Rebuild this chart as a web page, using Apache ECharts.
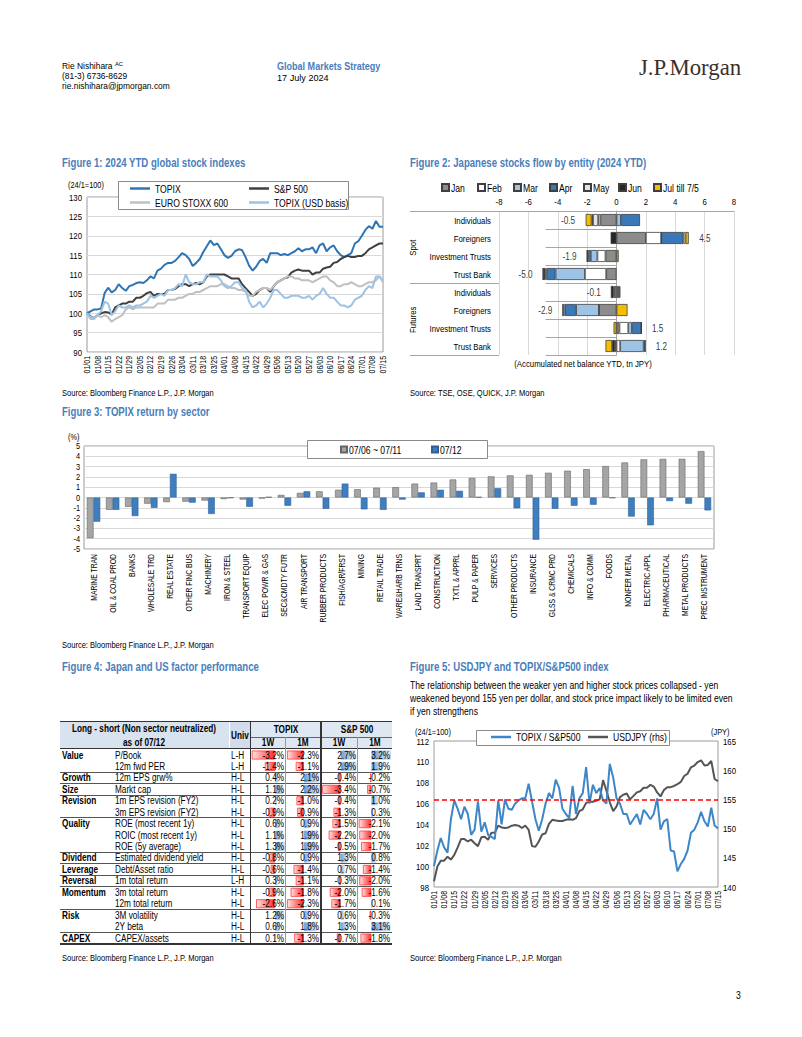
<!DOCTYPE html>
<html>
<head>
<meta charset="utf-8">
<script src="https://cdn.jsdelivr.net/npm/echarts@6.0.0/dist/echarts.min.js"></script>
<style>
html,body{margin:0;padding:0;background:#fff;}
body{width:802px;height:1037px;position:relative;overflow:hidden;font-family:"Liberation Sans",Arial,sans-serif;}
#chart{position:absolute;left:0;top:0;width:802px;height:1037px;}
#over{position:absolute;left:0;top:0;width:802px;height:1037px;pointer-events:none;}
.t{position:absolute;white-space:nowrap;color:#000;}
.ln{position:absolute;}
</style>
</head>
<body>
<div id="chart"></div>
<div id="over"></div>
<script>
// ---------------- DATA ----------------
// Figure 1 / Figure 5 dates (Mon / Wed / Fri)
const dates = ['01/01','01/03','01/05','01/08','01/10','01/12','01/15','01/17','01/19','01/22','01/24','01/26',
'01/29','01/31','02/02','02/05','02/07','02/09','02/12','02/14','02/16','02/19','02/21','02/23',
'02/26','02/28','03/01','03/04','03/06','03/08','03/11','03/13','03/15','03/18','03/20','03/22',
'03/25','03/27','03/29','04/01','04/03','04/05','04/08','04/10','04/12','04/15','04/17','04/19',
'04/22','04/24','04/26','04/29','05/01','05/03','05/06','05/08','05/10','05/13','05/15','05/17',
'05/20','05/22','05/24','05/27','05/29','05/31','06/03','06/05','06/07','06/10','06/12','06/14',
'06/17','06/19','06/21','06/24','06/26','06/28','07/01','07/03','07/05','07/08','07/10','07/12','07/15'];

const f1Topix = [100,100.5,101, 101,101.2,105.2, 106.6,105.4,106, 107.5,106.5,105.8,
107,107.3,107.8, 108,107.8,108.5, 109.5,109,111, 111.5,112.5,113,
113,113.5,114.5, 115.5,115,114, 112.2,113,114, 115.8,117.3,118.8,
117.6,118,116.5, 115,114.3,114.8, 116,116.5,116.3, 114.5,112.3,111,
112,113.5,114, 113,115.5,115.5, 115.5,115,115.3, 115,115.5,116,
116.8,116,116.5, 116.5,117,115.5, 117.5,118,116, 117,117.5,116,
115,114.5,115, 115.5,118,118.6, 120,121.5,122.5, 121.8,123.8,122.3, 122.3];
const f1Spx = [100,99.2,98.8, 99.5,100,100.3, 100.2,99.7,101.5, 102,102.5,102.5,
103,103,104, 104,104.5,105.2, 105.5,104.5,105, 105,105,106,
106,106.3,107, 107.5,107.5,107, 107.5,107.8,107.5, 108,109.5,110,
110,110,110, 110,109.5,109, 109,109,107.5, 106.5,105.5,104.5,
105,106,106.5, 106.5,105.5,107, 108,108.5,109, 109.3,110.5,111,
111.3,111,111, 111,110,110.5, 110.5,111.5,111.8, 112,113,113.2,
114,114.5,114.8, 114.5,114.5,114.8, 114.8,115.5,116.5, 117,117.5,118, 118];
const f1Stoxx = [100,99,99, 99.5,99,99.5, 99,97.8,98.5, 99,99.5,101,
101.5,101,101.5, 101.5,101.5,101.5, 101.5,101.5,102.5, 102.5,102.5,103.5,
103.5,103.5,104, 104,104.5,105, 105,105.5,105.5, 106,106.5,107,
107,107,107.5, 107.5,107,106.5, 106.5,106,106, 105.5,104.5,104.5,
105.5,106,106.5, 106.5,106,107, 108,108.5,109, 109.5,109.5,109,
109,108.5,108.5, 108.5,108,108.5, 109,109.5,109.5, 108.5,108,107,
107,107.5,107.5, 108,107.5,107, 107,107.5,108, 108,108.5,109.5, 108];
const f1TopixUsd = [100,98.5,98.5, 99.5,100.5,103, 102.5,99.5,100.5, 102,101.5,101.5,
102,101.5,102, 102,102.5,103, 104.5,104,104.5, 105,104.5,106,
106,106.5,107.5, 107,110,108, 107.5,107.5,108, 108,110,109.5,
109.5,109.5,108.5, 107,106.5,107, 108,108,106.5, 106,103,101.5,
102,103,101.5, 102.5,104,106, 106,105,104, 104,104.5,104.5,
104.5,104,104, 104.5,103.5,104.5, 105,106.5,105, 104,104,103,
102,102,101.5, 102,103.5,104, 104.5,106,107, 106.5,109.5,109.5, 108.5];

// Figure 2
const f2Entities = ['Individuals','Foreigners','Investment Trusts','Trust Bank','Individuals','Foreigners','Investment Trusts','Trust Bank'];
const f2Groups = ['Spot','Spot','Spot','Spot','Futures','Futures','Futures','Futures'];
const f2Months = ['Jan','Feb','Mar','Apr','May','Jun','Jul till 7/5'];
const f2Jan = [-1.1, 2.0, -0.75, -0.7, -0.15, -1.2, 0.2, -0.1];
const f2Feb = [-0.15, 1.05, -0.55, -1.45, 0.1, 0, 0.6, 0.25];
const f2Mar = [0.3, 0, -0.45, -2.0, 0.1, -1.55, 0.25, 1.6];
const f2Apr = [1.3, 1.5, -0.2, -0.6, -0.05, -0.75, 0.65, 0.1];
const f2May = [-0.35, 0.15, -0.05, -0.1, 0.05, -0.15, 0, 0];
const f2Jun = [-0.1, -0.4, 0, -0.15, -0.15, 0, 0, -0.2];
const f2Jul = [-0.4, 0.22, 0.15, 0, 0, 0.75, -0.2, -0.45];
const f2Totals = [-0.5, 4.5, -1.9, -5.0, -0.1, -2.9, 1.5, 1.2];

// Figure 3
const f3Sectors = ['MARINE TRAN','OIL & COAL PROD','BANKS','WHOLESALE TRD','REAL ESTATE','OTHER FINC BUS','MACHINERY','IRON & STEEL','TRANSPORT EQUIP','ELEC POWR & GAS','SEC&CMDTY FUTR','AIR TRANSPORT','RUBBER PRODUCTS','FISH/AGR/FRST','MINING','RETAIL TRADE','WARE&HARB TRNS','LAND TRANSPRT','CONSTRUCTION','TXTL & APPRL','PULP & PAPER','SERVICES','OTHER PRODUCTS','INSURANCE','GLSS & CRMC PRD','CHEMICALS','INFO & COMM','FOODS','NONFER METAL','ELECTRIC APPL','PHARMACEUTICAL','METAL PRODUCTS','PREC INSTRUMENT'];
const f3Week = [-3.95,-1.2,-0.9,-0.6,-0.45,-0.4,-0.3,-0.15,-0.2,-0.1,0.25,0.45,0.6,0.75,0.8,0.95,1.0,1.35,1.45,1.75,1.9,2.05,2.15,2.2,2.4,2.6,2.75,3.05,3.4,3.7,3.75,3.75,4.5];
const f3Day = [-2.35,-1.2,-1.8,-1.0,2.3,-0.5,-1.6,-0.05,-0.9,0.05,-0.8,0.6,-1.1,1.35,-1.15,-1.2,-0.2,0.5,0.75,0.65,0.05,0.9,-1.05,-4.1,-1.1,-0.8,-0.7,-0.05,-1.85,-2.7,-0.35,-0.6,-1.25];

// Figure 4 table
const t4Groups = ['Value','','Growth','Size','Revision','','Quality','','','Dividend','Leverage','Reversal','Momentum','','Risk','','CAPEX'];
const t4Items = ['P/Book','12m fwd PER','12m EPS grw%','Markt cap','1m EPS revision (FY2)','3m EPS revision (FY2)','ROE (most recent 1y)','ROIC (most recent 1y)','ROE (5y average)','Estimated dividend yield','Debt/Asset ratio','1m total return','3m total return','12m total return','3M volatility','2Y beta','CAPEX/assets'];
const t4Univ = ['L-H','L-H','H-L','H-L','H-L','H-L','H-L','H-L','H-L','H-L','H-L','L-H','H-L','H-L','H-L','H-L','H-L'];
const t4Topix1W = [-3.2,-1.4,0.4,1.1,0.2,-0.9,0.6,1.1,1.3,-0.8,-0.6,0.3,-0.9,-2.6,1.2,0.6,0.1];
const t4Topix1M = [-2.3,-1.1,2.1,2.2,-1.0,-0.9,0.9,1.9,1.9,0.9,-1.4,-1.1,-1.8,-2.3,0.9,1.8,-1.3];
const t4Spx1W = [2.7,2.9,-0.4,-3.4,-0.4,-1.3,-1.5,-2.2,-0.5,1.3,0.7,-0.3,-2.0,-1.7,0.6,1.3,-0.7];
const t4Spx1M = [3.2,1.9,-0.2,-0.7,1.0,0.3,-2.1,-2.0,-1.7,0.8,-1.4,-2.0,-1.6,0.1,-0.3,3.1,-1.8];
const t4GroupEnds = [1,2,3,5,8,9,10,11,13,15];

// Figure 5
const f5Ratio = [100,101.5,102.7, 101.8,101.3,104.5, 106.3,105.5,104.5, 105.7,105,103,
103.5,106.2,103.3, 104.2,103,102.8, 102.6,106.3,104, 106.4,105.5,105.4,
106,106.3,106.5, 106.5,107.9,106.2, 104.5,103.4,104.5, 106,107,106.5,
108.3,107.5,105.5, 105,104.6,107.7, 105,106.5,107, 109.5,106,107.8,
107,107.5,106.3, 106,109.8,108.5, 106.5,106,105, 105,104,104.5,
105,104,105.4, 105,104.5,105, 106.5,103.5,104.3, 104.5,101.5,101.4,
99.5,100.2,100.7, 101.5,103.2,103.5, 104.2,105.2,104.3, 103.8,105.6,103.9, 103.6];
const f5Usdjpy = [141,143.5,144.5, 144.5,145.2,144.7, 145.5,146.8,148.2, 148.2,147.8,148.1,
147.5,147,148.5, 148.6,148.1,149.3, 149.3,150.5,150.2, 150.1,150.2,150.5,
150.6,150.5,150.1, 150.5,149.8,147, 146.9,147.8,149, 149.2,150.8,151.5,
151.4,151.3,151.3, 151.5,151.6,151.5, 151.8,153,153.3, 154.4,154.6,154.6,
154.8,155,158.3, 156.5,154.5,153, 153.8,155.4,155.8, 156,155,155.6,
156.2,156.4,157, 157,157.5,157.2, 156.2,155.5,156.6, 157.1,157.1,157.3,
157.6,158,159, 159.4,160.5,160.8, 161.4,161.7,160.8, 160.9,161.6,158.5, 158.1];
const f5Threshold = 155;

// ---------------- LAYOUT / TEXT ----------------
const FONT = '"Liberation Sans",Arial,sans-serif';
const SQ = 0.82; // narrow-face emulation
const over = document.getElementById('over');
function T(x, y, txt, fs, o) {
  o = o || {};
  const sx = o.sx || SQ;
  const d = document.createElement('div');
  d.className = 't';
  if (o.html) d.innerHTML = txt; else d.textContent = txt;
  const lh = o.lh || fs * 1.2;
  d.style.fontSize = fs + 'px';
  d.style.lineHeight = lh + 'px';
  d.style.top = (y - lh / 2) + 'px';
  if (o.bold) d.style.fontWeight = 'bold';
  if (o.color) d.style.color = o.color;
  if (o.family) d.style.fontFamily = o.family;
  let origin = 'left center';
  if (o.align === 'right') { d.style.left = (x - 300) + 'px'; d.style.width = '300px'; d.style.textAlign = 'right'; origin = 'right center'; }
  else if (o.align === 'center') { d.style.left = (x - 150) + 'px'; d.style.width = '300px'; d.style.textAlign = 'center'; origin = 'center center'; }
  else d.style.left = x + 'px';
  d.style.transformOrigin = origin;
  d.style.transform = (o.rotate ? 'rotate(-90deg) ' : '') + 'scaleX(' + sx + ')';
  over.appendChild(d);
  return d;
}
function L(x, y, w, h, c) {
  const d = document.createElement('div');
  d.className = 'ln';
  d.style.left = x + 'px'; d.style.top = y + 'px'; d.style.width = w + 'px'; d.style.height = h + 'px';
  d.style.background = c;
  over.appendChild(d);
}
const BLUE_T = '#4a7ebb';
// header
T(62, 67.2, 'Rie Nishihara <span style="font-size:6px;position:relative;top:-3px">AC</span>', 8.6, {html: true, lh: 9.8, sx: 0.98});
T(62, 77.1, '(81-3) 6736-8629', 8.6, {lh: 9.8, sx: 0.98});
T(62, 87, 'rie.nishihara@jpmorgan.com', 8.6, {lh: 9.8, sx: 0.98});
T(277, 66.5, 'Global Markets Strategy', 10.5, {bold: true, color: BLUE_T, lh: 10.5, sx: 0.86});
T(277, 77.5, '17 July 2024', 9.6, {lh: 10, sx: 0.95});
T(639, 67, 'J.P.Morgan', 23.5, {family: '"Liberation Serif","DejaVu Serif",serif', color: '#3b302a', sx: 0.97});
// titles
T(62, 163, 'Figure 1: 2024 YTD global stock indexes', 12, {bold: true, color: BLUE_T, sx: 0.8});
T(410, 163, 'Figure 2: Japanese stocks flow by entity (2024 YTD)', 12, {bold: true, color: BLUE_T, sx: 0.8});
T(62, 412, 'Figure 3: TOPIX return by sector', 12, {bold: true, color: BLUE_T, sx: 0.8});
T(62, 667, 'Figure 4: Japan and US factor performance', 12, {bold: true, color: BLUE_T, sx: 0.8});
T(410, 667, 'Figure 5: USDJPY and TOPIX/S&P500 index', 12, {bold: true, color: BLUE_T, sx: 0.8});
T(410, 684.5, 'The relationship between the weaker yen and higher stock prices collapsed - yen', 10.5, {lh: 12});
T(410, 697.5, 'weakened beyond 155 yen per dollar, and stock price impact likely to be limited even', 10.5, {lh: 12});
T(410, 710.5, 'if yen strengthens', 10.5, {lh: 12});
// sources
T(62, 393.5, 'Source:  Bloomberg Finance L.P., J.P. Morgan', 9.2);
T(410, 393.5, 'Source: TSE, OSE, QUICK, J.P. Morgan', 9.2);
T(62, 645.5, 'Source: Bloomberg Finance L.P., J.P. Morgan', 9.2);
T(62, 958.5, 'Source: Bloomberg Finance L.P., J.P. Morgan', 9.2);
T(410, 958.5, 'Source: Bloomberg Finance L.P., J.P. Morgan', 9.2);
T(736, 995, '3', 10.5);
// axis unit texts
T(68, 185, '(24/1=100)', 9);
T(68, 437, '(%)', 9);
T(415, 732, '(24/1=100)', 9);
T(711, 732, '(JPY)', 9);
T(583, 364, '(Accumulated net balance YTD, tn JPY)', 9.5, {align: 'center'});
T(413, 248, 'Spot', 9.5, {align: 'center', rotate: true});
T(413, 320, 'Futures', 9.5, {align: 'center', rotate: true});

// ---------------- TABLE (Figure 4) ----------------
const TB = {left: 60, right: 392, top: 721.5, h1: 737, h2: 748.5, rowTop: 749.3, rowH: 11.44};
const colX = [250.5, 285.8, 321, 357.5, 392];
// header backgrounds
L(TB.left, TB.top, 169, TB.h2 - TB.top, '#d9e3ef');
L(229.5, TB.top, 21, TB.h2 - TB.top, '#d3dcea');
L(colX[0], TB.top, colX[4] - colX[0], TB.h2 - TB.top, '#dfe7f2');
T(144, 728.5, 'Long - short (Non sector neutralized)', 10, {bold: true, align: 'center', lh: 11});
T(144, 742, 'as of 07/12', 10, {bold: true, align: 'center', lh: 11});
T(240, 735, 'Univ', 10, {bold: true, align: 'center', lh: 11});
T((colX[0] + colX[2]) / 2, 729, 'TOPIX', 10, {bold: true, align: 'center', lh: 11});
T((colX[2] + colX[4]) / 2, 729, 'S&P 500', 10, {bold: true, align: 'center', lh: 11});
for (let c = 0; c < 4; c++) T((colX[c] + colX[c + 1]) / 2, 742.5, c % 2 === 0 ? '1W' : '1M', 10, {bold: true, align: 'center', lh: 11});
const nRows = t4Items.length;
const tBottom = TB.rowTop + nRows * TB.rowH;
const colVals = [t4Topix1W, t4Topix1M, t4Spx1W, t4Spx1M];
for (let i = 0; i < nRows; i++) {
  const cy = TB.rowTop + (i + 0.5) * TB.rowH;
  if (t4Groups[i]) T(62, cy, t4Groups[i], 10, {bold: true, lh: 11});
  T(115, cy, t4Items[i], 10, {lh: 11});
  T(231, cy, t4Univ[i], 10, {lh: 11});
  for (let c = 0; c < 4; c++) {
    T(colX[c + 1] - 2, cy, colVals[c][i].toFixed(1) + '%', 10, {align: 'right', lh: 11});
  }
}
// table lines
L(TB.left, TB.top - 0.7, TB.right - TB.left, 1.6, '#333');
L(colX[0], TB.h1 - 0.5, colX[4] - colX[0], 1, '#666');
L(TB.left, TB.h2 - 0.8, TB.right - TB.left, 1.6, '#333');
t4GroupEnds.forEach(k => L(TB.left, TB.rowTop + (k + 1) * TB.rowH - 0.5, TB.right - TB.left, 1, '#555'));
L(TB.left, tBottom - 0.5, TB.right - TB.left, 1.6, '#333');
L(colX[0] - 0.7, TB.top, 1.4, tBottom - TB.top, '#333');
L(colX[2] - 0.7, TB.top, 1.4, tBottom - TB.top, '#333');
L(colX[1] - 0.4, TB.h1, 0.8, tBottom - TB.h1, '#999');
L(colX[3] - 0.4, TB.h1, 0.8, tBottom - TB.h1, '#999');

// figure 2 decorative rule lines
L(410, 210.5, 89, 1, '#a6a6a6');
L(410, 282.5, 89, 1, '#a6a6a6');
L(410, 354.5, 89, 1, '#a6a6a6');

// ---------------- CHART ----------------
const chart = echarts.init(document.getElementById('chart'), null, {renderer: 'svg'});
const AX = '#000';
const lbl = (fs) => ({color: AX, fontSize: fs, fontFamily: FONT});

const grids = [
  {left: 87, top: 197, width: 296, height: 155, show: true, borderColor: '#9a9a9a', borderWidth: 1}, // fig1
  {left: 499, top: 211, width: 235, height: 144}, // fig2
  {left: 84, top: 446, width: 630, height: 103, show: true, borderColor: '#9a9a9a', borderWidth: 1}, // fig3
  {left: 434, top: 741, width: 284, height: 146, show: true, borderColor: '#9a9a9a', borderWidth: 1} // fig5
];
const tableGrids = [];
for (let c = 0; c < 4; c++) tableGrids.push({left: colX[c] + 1.2, width: colX[c + 1] - colX[c] - 2.4, top: TB.rowTop, height: nRows * TB.rowH});
const xAxes = [
  {gridIndex: 0, type: 'category', data: dates, boundaryGap: false,
   axisLine: {show: false}, axisTick: {show: false},
   axisLabel: Object.assign(lbl(8.5), {rotate: 90, interval: 2, margin: 4})},
  {gridIndex: 1, type: 'value', position: 'top', min: -8, max: 8, interval: 2,
   axisLine: {show: true, lineStyle: {color: '#a6a6a6'}}, axisTick: {show: false},
   splitLine: {show: true, lineStyle: {color: '#d9d9d9'}},
   axisLabel: Object.assign(lbl(9.5), {margin: 5})},
  {gridIndex: 2, type: 'category', data: f3Sectors,
   axisLine: {show: false, onZero: false}, axisTick: {show: false},
   axisLabel: Object.assign(lbl(8.3), {rotate: 90, interval: 0, margin: 5})},
  {gridIndex: 3, type: 'category', data: dates, boundaryGap: false,
   axisLine: {show: false}, axisTick: {show: false},
   axisLabel: Object.assign(lbl(8.5), {rotate: 90, interval: 2, margin: 4})}
];
const yAxes = [
  {gridIndex: 0, type: 'value', min: 90, max: 130, interval: 5,
   axisLine: {show: false}, axisTick: {show: false},
   splitLine: {show: true, lineStyle: {color: '#d9d9d9'}},
   axisLabel: Object.assign(lbl(9.5), {margin: 5})},
  {gridIndex: 1, type: 'category', inverse: true,
   data: f2Entities.map((e, i) => f2Groups[i] + '|' + e),
   axisLine: {show: true, lineStyle: {color: '#a6a6a6'}},
   axisTick: {show: true, length: 71, lineStyle: {color: '#a6a6a6'}},
   axisLabel: Object.assign(lbl(9.5), {margin: 8, formatter: v => v.split('|')[1]})},
  {gridIndex: 2, type: 'value', min: -5, max: 5, interval: 1,
   axisLine: {show: false}, axisTick: {show: false},
   splitLine: {show: true, lineStyle: {color: '#d9d9d9'}},
   axisLabel: Object.assign(lbl(9), {margin: 4})},
  {gridIndex: 3, type: 'value', min: 98, max: 112, interval: 2,
   axisLine: {show: false}, axisTick: {show: false}, splitLine: {show: false},
   axisLabel: Object.assign(lbl(9.5), {margin: 5})},
  {gridIndex: 3, type: 'value', position: 'right', min: 140, max: 165, interval: 5,
   axisLine: {show: false}, axisTick: {show: false}, splitLine: {show: false},
   axisLabel: Object.assign(lbl(9.5), {margin: 5})}
];
for (let c = 0; c < 4; c++) {
  xAxes.push({gridIndex: 4 + c, type: 'value', min: 'dataMin', max: 'dataMax', show: false});
  yAxes.push({gridIndex: 4 + c, type: 'category', inverse: true, data: t4Items, show: false});
}

const series = [];
// Figure 1
const f1Def = [['TOPIX', f1Topix, '#2e75b6'], ['S&P 500', f1Spx, '#404040'], ['EURO STOXX 600', f1Stoxx, '#c0c0c0'], ['TOPIX (USD basis)', f1TopixUsd, '#9dc3e6']];
[2, 3, 1, 0].forEach(k => {
  const d = f1Def[k];
  series.push({name: d[0], type: 'line', xAxisIndex: 0, yAxisIndex: 0, data: d[1], symbol: 'none',
    lineStyle: {color: d[2], width: 2}, itemStyle: {color: d[2]}, z: 3 + k});
});
// Figure 2
const f2Data = [f2Jan, f2Feb, f2Mar, f2Apr, f2May, f2Jun, f2Jul];
const f2Colors = ['#8c8c8c', '#ffffff', '#9dc3e6', '#3a78b8', '#e3e3e3', '#262626', '#f5bd00'];
f2Months.forEach((m, k) => {
  series.push({name: m, type: 'bar', xAxisIndex: 1, yAxisIndex: 1, stack: 'flow', data: f2Data[k],
    barWidth: 12, itemStyle: {color: f2Colors[k], borderColor: '#3f3f3f', borderWidth: 0.8}});
});
const negExt = f2Entities.map((e, i) => f2Data.reduce((s, arr) => s + Math.min(arr[i], 0), 0));
const posExt = f2Entities.map((e, i) => f2Data.reduce((s, arr) => s + Math.max(arr[i], 0), 0));
series.push({name: 'totals', type: 'scatter', xAxisIndex: 1, yAxisIndex: 1, symbolSize: 1, silent: true,
  itemStyle: {color: 'rgba(0,0,0,0)'},
  data: f2Totals.map((v, i) => ({value: [v < 0 ? negExt[i] : posExt[i], i],
    label: {show: true, position: v < 0 ? 'left' : 'right', distance: 10, formatter: v.toFixed(1), color: '#000', fontSize: 10, fontFamily: FONT}}))});
// Figure 3
series.push({name: '07/06 ~ 07/11', type: 'bar', xAxisIndex: 2, yAxisIndex: 2, data: f3Week,
  barGap: '0%', barCategoryGap: '30%', itemStyle: {color: '#a5a5a5', borderColor: '#666', borderWidth: 0.6}});
series.push({name: '07/12', type: 'bar', xAxisIndex: 2, yAxisIndex: 2, data: f3Day,
  itemStyle: {color: '#3f7fc0', borderColor: '#2f5f90', borderWidth: 0.6}});
// Figure 5
series.push({name: 'TOPIX / S&P500', type: 'line', xAxisIndex: 3, yAxisIndex: 3, data: f5Ratio, symbol: 'none',
  lineStyle: {color: '#3f86c8', width: 2}, itemStyle: {color: '#3f86c8'}, z: 4});
series.push({name: 'USDJPY (rhs)', type: 'line', xAxisIndex: 3, yAxisIndex: 4, data: f5Usdjpy, symbol: 'none',
  lineStyle: {color: '#555555', width: 2}, itemStyle: {color: '#555555'}, z: 3,
  markLine: {silent: true, symbol: 'none', label: {show: false},
    lineStyle: {color: '#ff0000', type: [5, 3], width: 1.5}, data: [{yAxis: f5Threshold}]}});
// Figure 4 data bars
const RED = '#ff2a2a', BLU = '#6f9bd3';
colVals.forEach((vals, c) => {
  series.push({name: 'tbl' + c, type: 'bar', xAxisIndex: 4 + c, yAxisIndex: 5 + c, barWidth: 9, silent: true,
    data: vals.map(v => ({value: v, itemStyle: v < 0 ? {
      color: new echarts.graphic.LinearGradient(0, 0, 1, 0, [{offset: 0, color: '#ffe3e3'}, {offset: 1, color: RED}]),
      borderColor: '#ff3b3b', borderWidth: 0.8} : {
      color: new echarts.graphic.LinearGradient(0, 0, 1, 0, [{offset: 0, color: BLU}, {offset: 1, color: '#e3edf8'}]),
      borderColor: '#9fbde3', borderWidth: 0.5}}))});
});

const legendText = {color: '#000', fontSize: 10.5, fontFamily: FONT};
function lg(name, left, top, extra) {
  return Object.assign({data: [name], left: left, top: top, padding: 0, z: 20, selectedMode: false, textStyle: legendText}, extra);
}
const lineIcon = {icon: 'rect', itemWidth: 20, itemHeight: 2.5};
const f2LegendX = [441, 477, 513, 549, 583, 618, 653];
const legends = [
  lg('TOPIX', 130, 183, lineIcon), lg('S&P 500', 249, 183, lineIcon),
  lg('EURO STOXX 600', 130, 197, lineIcon), lg('TOPIX (USD basis)', 249, 197, lineIcon),
  lg('07/06 ~ 07/11', 340, 444, {icon: 'rect', itemWidth: 6, itemHeight: 6, textStyle: Object.assign({}, legendText, {padding: [0, 0, 0, -3]})}),
  lg('07/12', 431, 444, {icon: 'rect', itemWidth: 6, itemHeight: 6, textStyle: Object.assign({}, legendText, {padding: [0, 0, 0, -3]})}),
  lg('TOPIX / S&P500', 491, 731.5, lineIcon), lg('USDJPY (rhs)', 588, 731.5, lineIcon)
].concat(f2Months.map((m, k) => lg(m, f2LegendX[k], 182, {icon: 'rect', itemWidth: 7, itemHeight: 7,
  textStyle: Object.assign({}, legendText, {padding: [0, 0, 0, -3]})})));
const box = (x, y, w, h) => ({type: 'rect', z: 10, shape: {x: x, y: y, width: w, height: h}, style: {fill: '#fff', stroke: '#8a8a8a', lineWidth: 1}});

chart.setOption({
  animation: false,
  textStyle: {fontFamily: FONT},
  grid: grids.concat(tableGrids),
  xAxis: xAxes,
  yAxis: yAxes,
  legend: legends,
  graphic: {elements: [box(118.5, 181.5, 230, 28), box(307.5, 440.5, 180, 18), box(476.5, 730.5, 193, 15)]},
  series: series
});

// emulate the narrow typeface of the original by compressing SVG text horizontally
function squeeze() {
  document.querySelectorAll('#chart svg text').forEach(el => {
    if (el.getAttribute('data-sq')) return;
    const w = el.getComputedTextLength();
    if (w > 0) {
      el.setAttribute('textLength', (w * SQ).toFixed(2));
      el.setAttribute('lengthAdjust', 'spacingAndGlyphs');
      el.setAttribute('data-sq', '1');
    }
  });
}
chart.on('finished', squeeze);
squeeze();
setTimeout(squeeze, 50);
</script>
</body>
</html>
